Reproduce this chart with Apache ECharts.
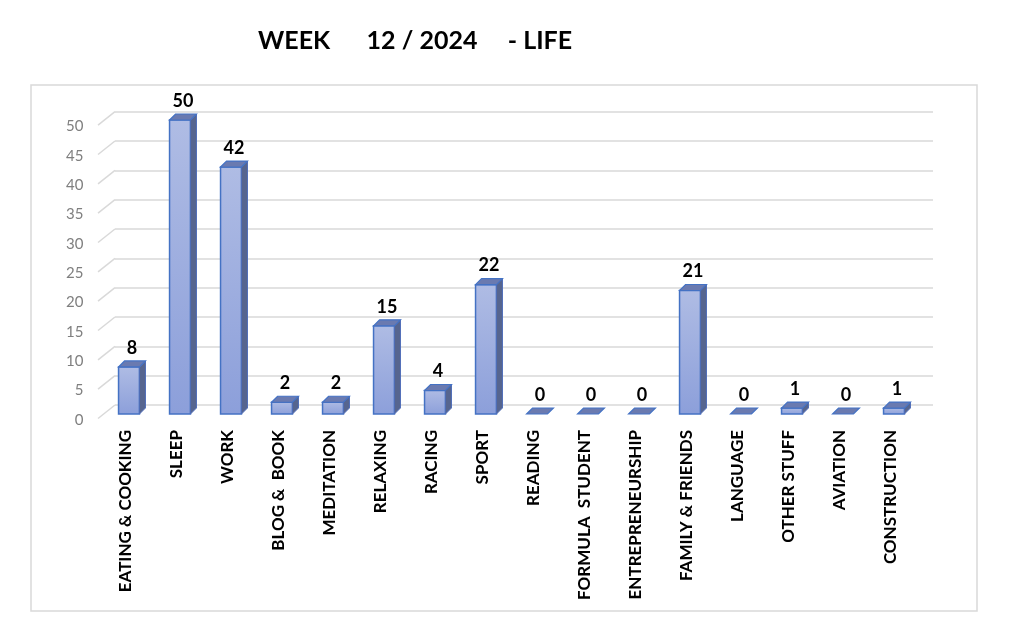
<!DOCTYPE html>
<html><head><meta charset="utf-8">
<script src="https://cdn.jsdelivr.net/npm/echarts@6/dist/echarts.min.js"></script>
<style>html,body{margin:0;padding:0;background:#fff}#c{width:1023px;height:638px}</style>
</head><body><div id="c"></div>
<script>
const titleText = 'WEEK      12 / 2024     - LIFE';
const categories = ['EATING & COOKING','SLEEP','WORK','BLOG &  BOOK','MEDITATION','RELAXING','RACING','SPORT','READING','FORMULA  STUDENT','ENTREPRENEURSHIP','FAMILY & FRIENDS','LANGUAGE','OTHER STUFF','AVIATION','CONSTRUCTION'];
const hours = [8,50,42,2,2,15,4,22,0,0,0,21,0,1,0,1];
const yTicks = [0,5,10,15,20,25,30,35,40,45,50];
const yMin = 0, yMax = 50, yStep = 5;

const chart = echarts.init(document.getElementById('c'));
const FONT = 'Lato, "Open Sans", sans-serif';
const DX = 6, DY = -6;          // bar depth offset (px)
const WALL_DX = -17, WALL_DY = 13.5; // back wall -> front floor

chart.setOption({
  backgroundColor: '#fff',
  animation: false,
  title: {
    text: titleText, left: 253, top: 23,
    textStyle: {fontFamily: FONT, fontWeight: 'bold', fontSize: 25, color: '#000'}
  },
  graphic: [{
    type: 'rect', shape: {x: 31, y: 85, width: 946, height: 526},
    style: {fill: 'none', stroke: '#d9d9d9', lineWidth: 1.5}, silent: true, z: -10
  }],
  grid: [
    {left: 115, right: 90, top: 111.7, height: 293.3},   // back wall
    {left: 103.5, width: 816, top: 120, height: 294},    // bars
    {left: 100.5, width: 816, top: 126.5, height: 293.5} // front floor (labels)
  ],
  xAxis: [
    {gridIndex: 0, type: 'value', min: 0, max: 1, show: false},
    {gridIndex: 1, type: 'category', data: categories, show: false},
    {gridIndex: 2, type: 'category', data: categories,
      axisLine: {show: false}, axisTick: {show: false}, splitLine: {show: false},
      axisLabel: {rotate: 90, interval: 0, margin: 10, color: '#000',
        fontFamily: FONT, fontWeight: 'bold', fontSize: 17}}
  ],
  yAxis: [
    {gridIndex: 0, type: 'value', min: yMin, max: yMax, interval: yStep,
      axisLabel: {show: false}, axisLine: {show: false}, axisTick: {show: false},
      splitLine: {show: true, lineStyle: {color: '#d9d9d9', width: 1.5}}},
    {gridIndex: 1, type: 'value', min: yMin, max: yMax, interval: yStep, show: false, splitLine: {show: false}},
    {gridIndex: 2, type: 'value', min: yMin, max: yMax, interval: yStep,
      axisLine: {show: false}, axisTick: {show: false}, splitLine: {show: false},
      axisLabel: {margin: 17, color: '#7f7f7f', fontFamily: FONT, fontSize: 15}}
  ],
  series: [
    {
      type: 'custom', xAxisIndex: 0, yAxisIndex: 0, silent: true, z: 1,
      data: yTicks.map(v => [0, v]),
      renderItem: function (params, api) {
        const p = api.coord([0, api.value(1)]);
        return {type: 'line', shape: {x1: p[0] + WALL_DX, y1: p[1] + WALL_DY, x2: p[0], y2: p[1]},
          style: {stroke: '#d9d9d9', lineWidth: 1.5}};
      }
    },
    {
      type: 'custom', xAxisIndex: 1, yAxisIndex: 1, z: 5,
      data: hours.map((v, i) => [i, v]),
      renderItem: function (params, api) {
        const i = api.value(0), v = api.value(1);
        const base = api.coord([i, 0]);
        const top = api.coord([i, v]);
        const w = api.size([1, 0])[0] * 0.41;
        const l = base[0] - w / 2, r = base[0] + w / 2;
        const yb = base[1], yt = top[1];
        const stroke = '#4472c4';
        const children = [];
        if (v > 0) {
          children.push({type: 'rect', shape: {x: l, y: yt, width: w, height: yb - yt},
            style: {fill: new echarts.graphic.LinearGradient(0, 0, 0, 1, [
              {offset: 0, color: '#afbce4'}, {offset: 1, color: '#8c9fda'}]),
              stroke: stroke, lineWidth: 1.5}});
          children.push({type: 'polygon', shape: {points: [[r, yt], [r + DX, yt + DY], [r + DX, yb + DY], [r, yb]]},
            style: {fill: '#56658f', stroke: '#4f6db8', lineWidth: 1}});
        }
        children.push({type: 'polygon', shape: {points: [[l, yt], [l + DX, yt + DY], [r + DX, yt + DY], [r, yt]]},
          style: {fill: '#6a7ab0', stroke: stroke, lineWidth: 1.2}});
        children.push({type: 'text', style: {text: String(v), x: base[0] + DX / 2, y: yt + DY - 4,
          textAlign: 'center', textVerticalAlign: 'bottom', fill: '#000',
          font: 'bold 18px ' + FONT}});
        return {type: 'group', children: children};
      }
    }
  ]
});
</script>
</body></html>
